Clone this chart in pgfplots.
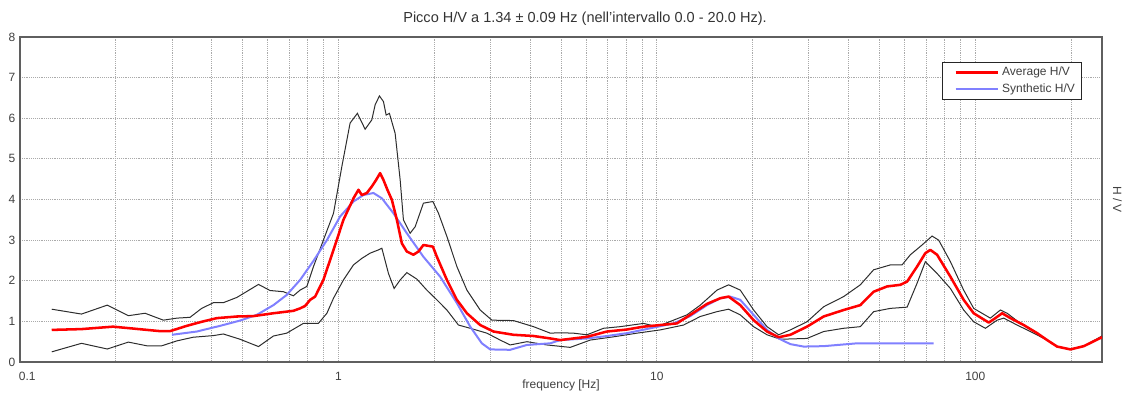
\documentclass[border=0pt]{standalone}
\usepackage{fontspec}
\setmainfont{Liberation Sans}
\usepackage{pgfplots}
\pgfplotsset{compat=1.18}
\definecolor{avgred}{RGB}{255,0,0}
\definecolor{synblue}{RGB}{128,128,255}
\definecolor{curvegray}{RGB}{45,45,45}
\definecolor{gridgray}{RGB}{170,170,170}
\definecolor{framegray}{RGB}{95,95,95}
\begin{document}
\begin{tikzpicture}
\path[use as bounding box] (-15pt,-26.25pt) rectangle (827.25pt,271.5pt);
\begin{axis}[
  at={(0pt,0pt)}, anchor=south west,
  scale only axis, width=811.5pt, height=243.75pt,
  xmode=log, xmin=0.1, xmax=250, ymin=0, ymax=8,
  xtick={0.1,1,10,100},
  xticklabels={\hspace*{11pt}0.1,1,10,100},
  minor xtick={0.2,0.3,0.4,0.5,0.6,0.7,0.8,0.9,2,3,4,5,6,7,8,9,20,30,40,50,60,70,80,90,200},
  ytick={0,1,2,3,4,5,6,7,8},
  grid=both,
  major grid style={gridgray, densely dotted, line width=0.6pt},
  minor grid style={gridgray, densely dotted, line width=0.6pt},
  axis line style={framegray, line width=1pt},
  tick style={draw=none},
  /pgf/number format/assume math mode=true,
  tick label style={font=\fontsize{9}{10}\selectfont, text=black!75},
  xticklabel style={yshift=-4.3pt},
  xlabel={frequency [Hz]},
  x label style={at={(axis description cs:0.5,0)}, anchor=center, yshift=-17.6pt, font=\fontsize{9}{10}\selectfont, text=black!75},
  legend style={at={(1,1)}, anchor=north east, xshift=-15pt, yshift=-18.75pt,
    draw=black!85, line width=0.7pt, font=\fontsize{9}{10.5}\selectfont, text=black!75,
    inner xsep=3pt, inner ysep=1.5pt, row sep=0.5pt, cells={anchor=west}},
  legend image code/.code={\path (-6pt,0pt); \draw[#1] (0pt,0pt) -- (32pt,0pt);},
]
% lower envelope
\addplot[curvegray, line width=0.75pt, forget plot] coordinates {
(0.1258,0.25)(0.156,0.46)(0.188,0.32)(0.219,0.49)(0.250,0.40)(0.279,0.40)(0.311,0.52)(0.350,0.61)(0.405,0.65)(0.435,0.69)(0.491,0.56)(0.561,0.38)(0.625,0.64)(0.688,0.71)(0.776,0.95)(0.865,0.95)(0.920,1.20)(0.965,1.57)(1.037,2.02)(1.115,2.39)(1.184,2.55)(1.258,2.68)(1.336,2.76)(1.369,2.80)(1.436,2.18)(1.496,1.81)(1.563,2.02)(1.640,2.20)(1.764,2.04)(1.895,1.77)(2.038,1.53)(2.191,1.28)(2.382,0.91)(2.594,0.83)(2.926,0.71)(3.221,0.54)(3.462,0.42)(3.908,0.50)(4.515,0.42)(5.345,0.36)(6.177,0.54)(7.311,0.62)(8.659,0.71)(10.25,0.79)(12.13,0.91)(13.69,1.12)(15.45,1.24)(16.80,1.30)(18.28,1.16)(20.13,0.87)(22.18,0.67)(24.42,0.56)(29.62,0.58)(33.40,0.75)(38.60,0.83)(43.55,0.87)(47.95,1.24)(54.12,1.32)(61.08,1.35)(65.65,1.94)(69.70,2.47)(75.86,2.18)(83.53,1.81)(91.94,1.28)(98.85,0.99)(107.6,0.83)(117.1,1.03)(122.8,1.08)(135.3,0.91)(148.9,0.75)(168.1,0.54)(180.7,0.38)(199.0,0.31)(219.1,0.39)(250,0.64)
};
% upper envelope
\addplot[curvegray, line width=0.75pt, forget plot] coordinates {
(0.1258,1.30)(0.156,1.18)(0.188,1.40)(0.219,1.14)(0.247,1.20)(0.282,1.03)(0.311,1.08)(0.342,1.10)(0.372,1.32)(0.405,1.46)(0.435,1.46)(0.480,1.59)(0.561,1.91)(0.610,1.76)(0.672,1.73)(0.722,1.63)(0.758,1.77)(0.796,1.86)(0.835,2.35)(0.897,3.00)(0.965,3.66)(1.025,4.81)(1.088,5.88)(1.147,6.12)(1.213,5.73)(1.273,5.96)(1.304,6.33)(1.345,6.55)(1.385,6.41)(1.412,6.08)(1.446,6.12)(1.507,5.63)(1.563,4.48)(1.600,3.50)(1.680,3.17)(1.742,3.33)(1.849,3.91)(1.980,3.95)(2.062,3.66)(2.191,3.09)(2.355,2.35)(2.532,1.77)(2.787,1.28)(3.034,1.03)(3.546,1.02)(4.099,0.87)(4.626,0.71)(4.971,0.72)(5.473,0.71)(6.031,0.67)(6.801,0.83)(7.674,0.87)(9.082,0.95)(10.01,0.87)(11.28,1.03)(12.43,1.16)(13.69,1.40)(15.45,1.77)(16.80,1.90)(18.28,1.77)(20.13,1.28)(22.18,0.87)(24.13,0.67)(26.25,0.79)(29.62,0.99)(33.40,1.36)(38.60,1.61)(43.55,1.90)(47.95,2.27)(54.12,2.39)(58.88,2.39)(62.54,2.64)(68.05,2.88)(73.16,3.10)(76.74,3.00)(83.53,2.47)(91.94,1.77)(98.85,1.32)(111.5,1.08)(119.9,1.28)(125.9,1.20)(138.6,0.95)(156.4,0.71)(168.1,0.54)(180.7,0.38)(199.0,0.31)(219.1,0.39)(250,0.62)
};
% synthetic H/V
\addplot[synblue, line width=1.5pt, forget plot] coordinates {
(0.300,0.67)(0.359,0.75)(0.425,0.89)(0.491,1.02)(0.554,1.16)(0.625,1.40)(0.688,1.65)(0.758,2.02)(0.835,2.49)(0.920,3.00)(1.012,3.58)(1.115,3.95)(1.198,4.11)(1.288,4.16)(1.369,4.03)(1.489,3.66)(1.640,3.17)(1.849,2.59)(2.087,2.10)(2.355,1.45)(2.594,0.87)(2.821,0.46)(2.997,0.31)(3.462,0.30)(3.908,0.42)(4.626,0.46)(4.971,0.54)(6.031,0.58)(6.969,0.64)(8.055,0.71)(9.535,0.83)(11.28,0.95)(12.73,1.13)(14.37,1.40)(15.82,1.57)(17.01,1.61)(18.28,1.53)(20.13,1.16)(22.18,0.79)(24.13,0.58)(26.25,0.44)(28.90,0.38)(33.40,0.39)(42.53,0.46)(54.12,0.46)(74.0,0.46)
};
% average H/V
\addplot[avgred, line width=1.9pt, line join=round] coordinates {
(0.1258,0.79)(0.156,0.81)(0.196,0.87)(0.222,0.83)(0.275,0.76)(0.296,0.76)(0.334,0.89)(0.372,0.99)(0.415,1.08)(0.480,1.12)(0.541,1.13)(0.625,1.20)(0.722,1.26)(0.758,1.32)(0.786,1.38)(0.815,1.53)(0.845,1.61)(0.897,2.02)(0.965,2.76)(1.037,3.50)(1.115,4.03)(1.156,4.24)(1.184,4.11)(1.228,4.16)(1.273,4.32)(1.313,4.48)(1.352,4.65)(1.385,4.48)(1.425,4.24)(1.472,3.99)(1.526,3.50)(1.582,2.92)(1.640,2.72)(1.720,2.64)(1.784,2.72)(1.849,2.88)(1.980,2.84)(2.038,2.59)(2.191,2.02)(2.355,1.53)(2.532,1.20)(2.787,0.91)(3.069,0.75)(3.546,0.67)(4.099,0.64)(4.626,0.58)(4.971,0.54)(6.031,0.62)(6.969,0.75)(8.055,0.80)(9.082,0.87)(10.25,0.91)(11.56,0.95)(12.73,1.16)(14.37,1.43)(15.82,1.57)(16.80,1.61)(18.28,1.40)(20.13,1.03)(22.18,0.75)(24.13,0.61)(26.25,0.67)(29.62,0.87)(33.40,1.12)(38.60,1.28)(43.55,1.40)(47.95,1.73)(52.84,1.86)(58.18,1.90)(61.08,1.98)(65.65,2.35)(69.70,2.68)(72.26,2.76)(75.86,2.64)(83.53,2.10)(91.94,1.53)(98.85,1.20)(110.2,0.97)(115.6,1.08)(121.4,1.20)(128.9,1.08)(141.9,0.91)(156.4,0.71)(168.1,0.54)(180.7,0.38)(199.0,0.31)(219.1,0.39)(250,0.61)
};
\addlegendentry{Average H/V}
\addlegendimage{synblue, line width=1.5pt}
\addlegendentry{Synthetic H/V}
\end{axis}
\node[anchor=base, font=\fontsize{10.9}{12}\selectfont, text=black!80] at (423.75pt,254.25pt) {Picco H/V a 1.34 ± 0.09 Hz (nell'intervallo 0.0 - 20.0 Hz).};
\node[anchor=center, rotate=-90, font=\fontsize{9}{10}\selectfont, text=black!75] at (823pt,121.9pt) {H / V};
\end{tikzpicture}
\end{document}
